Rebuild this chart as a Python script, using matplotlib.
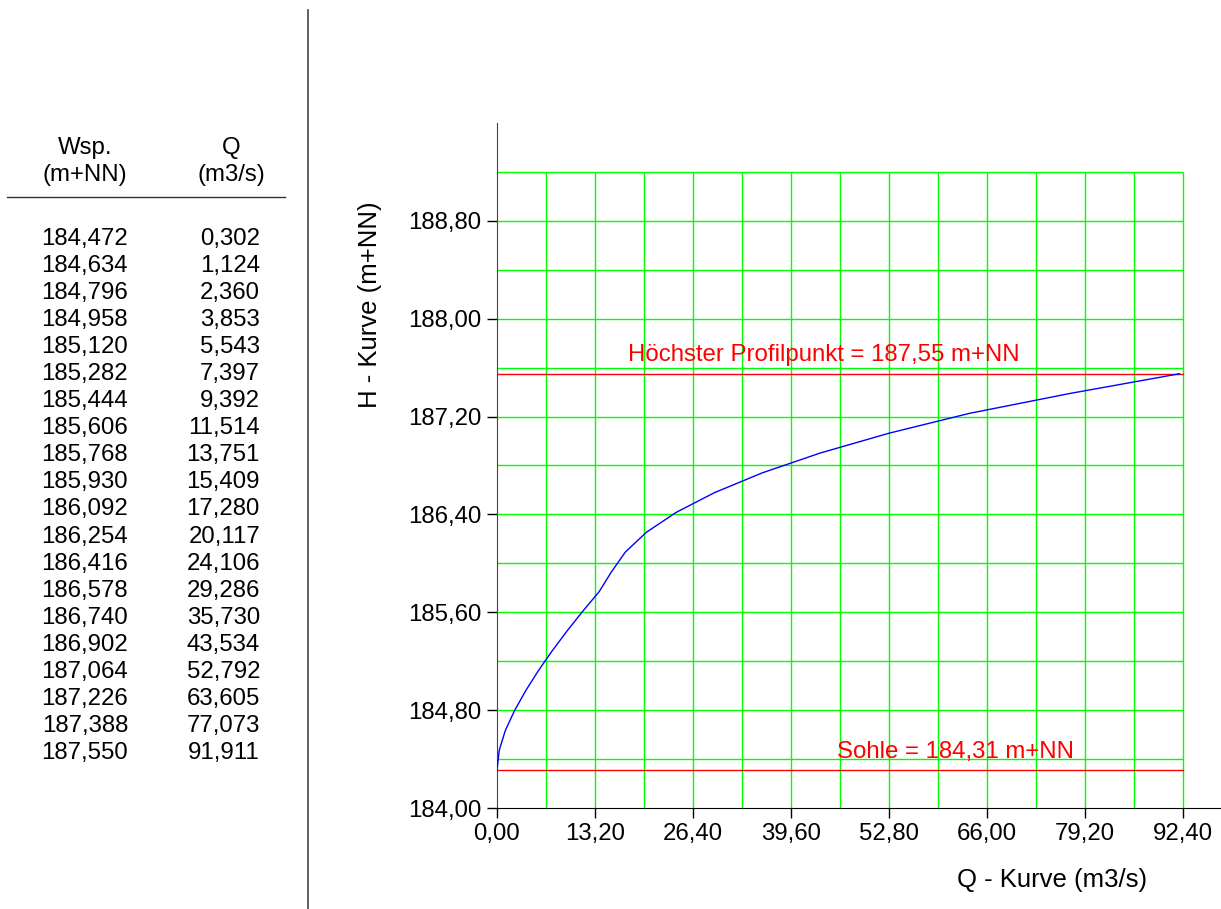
import numpy as np
import matplotlib.pyplot as plt

plt.rcParams['font.family'] = ['Liberation Sans', 'DejaVu Sans']

# Wasserspiegel (m+NN) und Abfluss (m3/s)
wsp = [184.472, 184.634, 184.796, 184.958, 185.120, 185.282, 185.444, 185.606,
       185.768, 185.930, 186.092, 186.254, 186.416, 186.578, 186.740, 186.902,
       187.064, 187.226, 187.388, 187.550]
q = [0.302, 1.124, 2.360, 3.853, 5.543, 7.397, 9.392, 11.514, 13.751, 15.409,
     17.280, 20.117, 24.106, 29.286, 35.730, 43.534, 52.792, 63.605, 77.073, 91.911]
sohle = 184.31
hoechster = 187.55
x_ticks = [0.0, 13.2, 26.4, 39.6, 52.8, 66.0, 79.2, 92.4]
y_ticks = [184.0, 184.8, 185.6, 186.4, 187.2, 188.0, 188.8]


def de(v, n):
    return f"{v:.{n}f}".replace('.', ',')


fig = plt.figure(figsize=(12.21, 9.09), dpi=100)

# table on the left
fs = 17.3
fig.text(85 / 1221, 1 - 148 / 909, 'Wsp.', ha='center', va='center', fontsize=fs)
fig.text(85 / 1221, 1 - 175 / 909, '(m+NN)', ha='center', va='center', fontsize=fs)
fig.text(231 / 1221, 1 - 148 / 909, 'Q', ha='center', va='center', fontsize=fs)
fig.text(231 / 1221, 1 - 175 / 909, '(m3/s)', ha='center', va='center', fontsize=fs)
fig.add_artist(plt.Line2D([7 / 1221, 285 / 1221], [1 - 197 / 909] * 2, color='#333333', lw=1))
fig.add_artist(plt.Line2D([308 / 1221] * 2, [0, 1 - 10 / 909], color='#555555', lw=1.3))
for i, (h, qq) in enumerate(zip(wsp, q)):
    y = 1 - (239 + i * 27.05) / 909
    fig.text(128 / 1221, y, de(h, 3), ha='right', va='center', fontsize=fs)
    fig.text(260 / 1221, y, de(qq, 3), ha='right', va='center', fontsize=fs)

# diagram
ax = fig.add_axes([497 / 1221, 101 / 909, 724 / 1221, 685 / 909])
ax.set_xlim(0, 97.5)
ax.set_ylim(184.0, 189.6)
for s in ['top', 'right']:
    ax.spines[s].set_visible(False)
ax.spines['left'].set_color('#444444')
ax.spines['bottom'].set_color('black')

gx = np.arange(0, 92.41, 6.6)
gy = np.arange(184.4, 189.21, 0.4)
ax.vlines(gx[1:], 184.0, 189.2, color='#00ff00', lw=1, zorder=1)
ax.hlines(gy, 0, 92.4, color='#00ff00', lw=1, zorder=1)

ax.axhline(sohle, xmax=92.4 / 97.5, color='#ff0000', lw=1, zorder=2)
ax.axhline(hoechster, xmax=92.4 / 97.5, color='#ff0000', lw=1, zorder=2)
ax.plot([0.0] + q, [sohle] + wsp, color='#0000ff', lw=1, zorder=3)

ax.text(17.7, 187.61, 'Höchster Profilpunkt = ' + de(hoechster, 2) + ' m+NN',
        color='#ff0000', fontsize=17.3, va='bottom')
ax.text(45.8, 184.37, 'Sohle = ' + de(sohle, 2) + ' m+NN',
        color='#ff0000', fontsize=17.3, va='bottom')

ax.set_xticks(x_ticks)
ax.set_xticklabels([de(v, 2) for v in x_ticks])
ax.set_yticks(y_ticks)
ax.set_yticklabels([de(v, 2) for v in y_ticks])
ax.tick_params(direction='out', length=7, width=1, labelsize=fs, pad=4)

fig.text(370 / 1221, 1 - 305 / 909, 'H - Kurve (m+NN)', rotation=90,
         ha='center', va='center', fontsize=18.5)
fig.text(1052 / 1221, 1 - 880 / 909, 'Q - Kurve (m3/s)', ha='center', va='center', fontsize=18.5)

fig.savefig('out.png', dpi=100)
